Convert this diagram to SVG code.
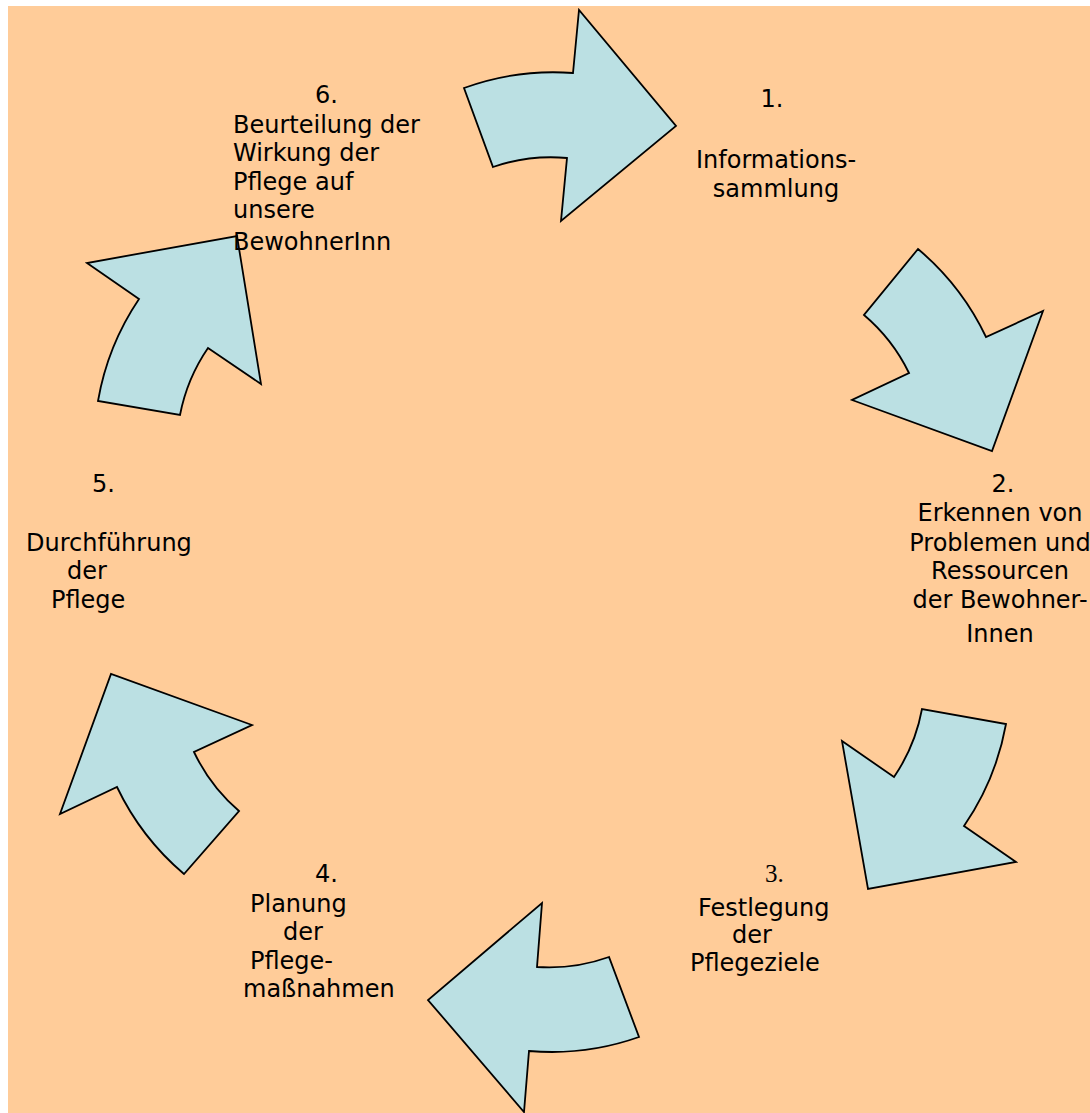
<svg xmlns="http://www.w3.org/2000/svg" width="1090" height="1113" viewBox="0 0 1090 1113">
<style>
.arrow{fill:#BBE0E3;stroke:#000;stroke-width:1.8;stroke-linejoin:miter}
.t{font-family:"DejaVu Sans",Verdana,sans-serif;font-size:24px;fill:#000}
.s{font-family:"Liberation Serif","Times New Roman",serif;font-size:25px;fill:#000}
</style>
<rect x="8" y="6" width="1082" height="1107" fill="#FFCC99"/>
<g id="connectors">
<path id="arrow1" class="arrow" d="M464,88 A262,262 0 0 1 573,73 L579,10 L676,126 L561,221 L567,158 A178,178 0 0 0 493,167 Z"/>
<path id="arrow2" class="arrow" d="M918,249 A262,262 0 0 1 986,337 L1043,311 L992,451 L852,400 L909,373 A178,178 0 0 0 864,315 Z"/>
<path id="arrow3" class="arrow" d="M1006,724 A262,262 0 0 1 964,826 L1016,862 L868,889 L842,741 L894,777 A178,178 0 0 0 922,709 Z"/>
<path id="arrow4" class="arrow" d="M639,1037 A262,262 0 0 1 529,1051 L524,1112 L428,1000 L542,903 L537,967 A178,178 0 0 0 609,957 Z"/>
<path id="arrow5" class="arrow" d="M184,874 A262,262 0 0 1 117,787 L60,814 L111,674 L252,725 L194,752 A178,178 0 0 0 239,811 Z"/>
<path id="arrow6" class="arrow" d="M98,401 A262,262 0 0 1 139,299 L87,263 L237,236 L261,384 L208,348 A178,178 0 0 0 180,415 Z"/>
</g>
<g id="node1">
<text class="t" x="772" y="107" text-anchor="middle">1.</text>
<text class="t" x="776" y="168" text-anchor="middle">Informations-</text>
<text class="t" x="776" y="197" text-anchor="middle">sammlung</text>
</g>
<g id="node2">
<text class="t" x="1003" y="492" text-anchor="middle">2.</text>
<text class="t" x="1000" y="521" text-anchor="middle">Erkennen von</text>
<text class="t" x="1000" y="551" text-anchor="middle">Problemen und</text>
<text class="t" x="1000" y="579" text-anchor="middle">Ressourcen</text>
<text class="t" x="1000" y="608" text-anchor="middle">der Bewohner-</text>
<text class="t" x="1000" y="642" text-anchor="middle">Innen</text>
</g>
<g id="node3">
<text class="s" x="765" y="882">3.</text>
<text class="t" x="698" y="916">Festlegung</text>
<text class="t" x="732" y="943">der</text>
<text class="t" x="690" y="971">Pflegeziele</text>
</g>
<g id="node4">
<text class="t" x="315" y="882">4.</text>
<text class="t" x="250" y="912">Planung</text>
<text class="t" x="283" y="940">der</text>
<text class="t" x="250" y="969">Pflege-</text>
<text class="t" x="243" y="997">maßnahmen</text>
</g>
<g id="node5">
<text class="t" x="92" y="492">5.</text>
<text class="t" x="26" y="551">Durchführung</text>
<text class="t" x="67" y="579">der</text>
<text class="t" x="51" y="608">Pflege</text>
</g>
<g id="node6">
<text class="t" x="315" y="103">6.</text>
<text class="t" x="233" y="133">Beurteilung der</text>
<text class="t" x="233" y="161">Wirkung der</text>
<text class="t" x="233" y="190">Pflege auf</text>
<text class="t" x="233" y="218">unsere</text>
<text class="t" x="233" y="250">BewohnerInn</text>
</g>
</svg>
